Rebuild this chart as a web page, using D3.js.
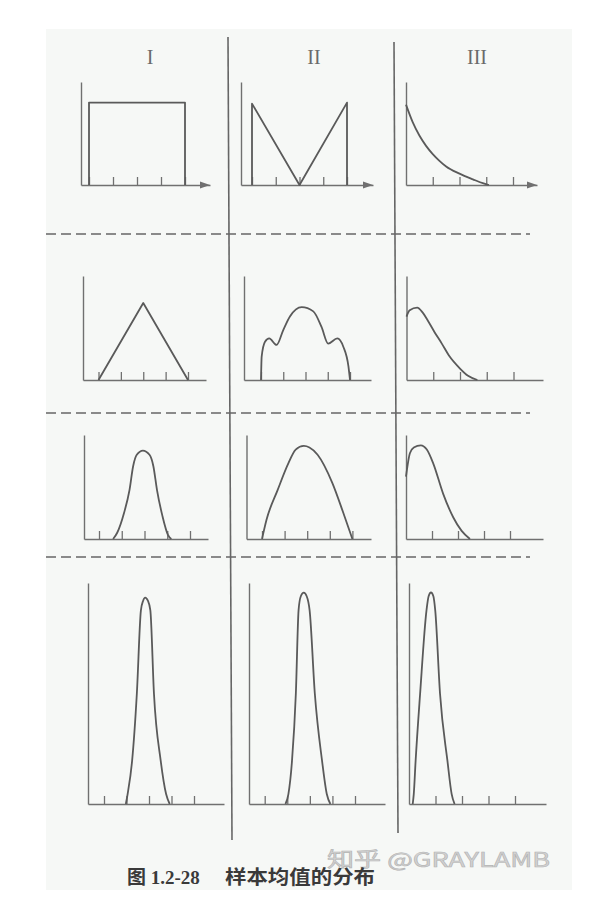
<!DOCTYPE html>
<html><head><meta charset="utf-8">
<script src="https://cdn.jsdelivr.net/npm/d3@7"></script>
<style>html,body{margin:0;padding:0;background:#fff;} svg{display:block}</style>
</head><body><svg id="c" width="610" height="918"></svg>
<script>
// ---------------- data ----------------
const columnTitles = ["I", "II", "III"];
const ticksSymmetric = [0, 1, 2, 3, 4];
const ticksSkewed = [1, 2, 3, 4];
const captionNumber = "图 1.2-28";
const captionText = "样本均值的分布";
const creditText = "知乎 @GRAYLAMB";

// row 1 : populations
const uniformPop = [[0,0],[0,0.8],[4,0.8],[4,0]];
const vShapePop  = [[0,0],[0,0.79],[2,0],[4,0.8],[4,0]];
const expPop     = [[0,0.78],[0.25,0.61],[0.5,0.48],[0.75,0.38],[1,0.3],[1.25,0.235],[1.5,0.18],[2,0.11],[2.5,0.055],[2.9,0.015],[3.1,0]];
// row 2
const uniformM2  = [[0,0],[2,0.74],[4,0]];
const vShapeM2   = [[0,0],[0.03,0.225],[0.18,0.368],[0.37,0.4],[0.7,0.337],[1.0,0.48],[1.3,0.61],[1.83,0.7],[2.35,0.66],[2.72,0.51],[3.02,0.35],[3.43,0.4],[3.7,0.32],[3.93,0.13],[4,0]];
const expM2      = [[0,0.61],[0.12,0.67],[0.4,0.695],[0.6,0.65],[0.8,0.57],[1.05,0.46],[1.32,0.35],[1.6,0.23],[2.0,0.11],[2.3,0.04],[2.65,0]];
// row 3
const uniformM3  = [[0.62,0],[0.8,0.06],[1.1,0.25],[1.34,0.47],[1.5,0.7],[1.66,0.81],[1.93,0.85],[2.22,0.81],[2.39,0.7],[2.55,0.47],[2.79,0.22],[3.03,0.04],[3.18,0]];
const vShapeM3   = [[0,0],[0.2,0.185],[0.69,0.47],[1.17,0.73],[1.49,0.86],[1.85,0.895],[2.1,0.88],[2.46,0.81],[3.11,0.54],[3.6,0.25],[4,0]];
const expM3      = [[0,0.6],[0.15,0.825],[0.3,0.88],[0.57,0.9],[0.8,0.86],[1.05,0.725],[1.43,0.434],[1.82,0.207],[2.14,0.078],[2.46,0]];
// row 4
const uniformM4  = [[0.97,0],[1.05,0.045],[1.25,0.196],[1.46,0.5],[1.64,0.876],[1.74,0.92],[1.83,0.934],[1.95,0.92],[2.06,0.876],[2.22,0.5],[2.52,0.196],[2.76,0.045],[2.92,0]];
const vShapeM4   = [[0.92,0],[1.05,0.045],[1.21,0.196],[1.38,0.5],[1.5,0.876],[1.6,0.94],[1.73,0.956],[1.86,0.94],[1.99,0.876],[2.22,0.5],[2.54,0.196],[2.75,0.045],[2.91,0]];
const expM4      = [[0.14,0],[0.18,0.045],[0.25,0.196],[0.42,0.5],[0.66,0.876],[0.74,0.94],[0.83,0.957],[0.92,0.94],[0.99,0.876],[1.17,0.5],[1.45,0.196],[1.61,0.045],[1.72,0]];

const curveGrid = [
  [uniformPop, vShapePop, expPop],
  [uniformM2,  vShapeM2,  expM2],
  [uniformM3,  vShapeM3,  expM3],
  [uniformM4,  vShapeM4,  expM4]
];
const columnTicks = [ticksSymmetric, ticksSymmetric, ticksSkewed];

// ---------------- layout (positions only) ----------------
const rowsLayout = [
  {top: 82,  bottom: 185, arrow: true},
  {top: 276, bottom: 380, arrow: false},
  {top: 435, bottom: 539, arrow: false},
  {top: 583, bottom: 804, arrow: false}
];
// per row / column: [y-axis x, pixel of value 0, pixel of value 4, axis end]
const panelLayout = [
  [[81, 89, 185, 210], [241, 252, 347, 373], [406, 406, 513, 537]],
  [[83, 98.5, 188, 206], [244, 261, 350, 371], [406.5, 406.5, 513.5, 543]],
  [[84, 99, 190, 208], [246.5, 262, 352.4, 371], [406, 406, 510, 543]],
  [[88, 104, 194, 224], [249, 264.7, 355, 385], [409, 409, 515, 546]]
];
const linearPanels = new Set(["0-0", "0-1", "1-0"]);
const titleX = [150, 314, 477];
const dividers = [[228, 37, 232, 840], [394, 42, 398, 833]];
const dashedY = [234, 413, 557];

const ink = "#5a5a5a", axisInk = "#707070";

// ---------------- drawing ----------------
const svg = d3.select("#c");
svg.append("rect").attr("x", 0).attr("y", 0).attr("width", 610).attr("height", 918).attr("fill", "#fff");
svg.append("rect").attr("x", 46).attr("y", 29).attr("width", 526).attr("height", 861).attr("fill", "#f6f8f6");

// column titles
svg.selectAll("text.title").data(columnTitles).join("text")
  .attr("class", "title")
  .attr("x", (d, i) => titleX[i]).attr("y", 64)
  .attr("text-anchor", "middle")
  .attr("font-family", "'Liberation Serif', 'DejaVu Serif', serif")
  .attr("font-size", 20).attr("fill", "#6a6a6a")
  .text(d => d);

// dashed separators
svg.selectAll("line.dash").data(dashedY).join("line")
  .attr("class", "dash")
  .attr("x1", 46).attr("x2", 530).attr("y1", d => d).attr("y2", d => d)
  .attr("stroke", "#8a8a8a").attr("stroke-width", 2).attr("stroke-dasharray", "10,5");

// vertical dividers
svg.selectAll("line.div").data(dividers).join("line")
  .attr("class", "div")
  .attr("x1", d => d[0]).attr("y1", d => d[1]).attr("x2", d => d[2]).attr("y2", d => d[3])
  .attr("stroke", "#666").attr("stroke-width", 1.6);

curveGrid.forEach((row, r) => {
  const R = rowsLayout[r];
  row.forEach((pts, c) => {
    const [ax, p0, p4, end] = panelLayout[r][c];
    const x = d3.scaleLinear().domain([0, 4]).range([p0, p4]);
    const y = d3.scaleLinear().domain([0, 1]).range([R.bottom, R.top]);
    const g = svg.append("g");

    // x axis (from y-axis to end)
    const xAxisScale = d3.scaleLinear().domain([x.invert(ax), x.invert(end)]).range([ax, end]);
    const xAxis = d3.axisBottom(xAxisScale).tickValues(columnTicks[c]).tickSizeInner(-8).tickSizeOuter(0).tickFormat("");
    const gx = g.append("g").attr("transform", `translate(0,${R.bottom})`).call(xAxis);
    gx.select(".domain").attr("stroke", axisInk).attr("stroke-width", 1.4);
    gx.selectAll(".tick line").attr("stroke", axisInk).attr("stroke-width", 1.3);

    // y axis
    const yAxis = d3.axisLeft(y).tickValues([]).tickSizeOuter(0);
    const gy = g.append("g").attr("transform", `translate(${ax},0)`).call(yAxis);
    gy.select(".domain").attr("stroke", axisInk).attr("stroke-width", 1.4);

    if (R.arrow) {
      g.append("path")
        .attr("d", `M${end},${R.bottom} l-10,-3.5 l0,7 z`)
        .attr("fill", axisInk);
    }

    const line = d3.line()
      .x(d => x(d[0])).y(d => y(d[1]))
      .curve(linearPanels.has(`${r}-${c}`) ? d3.curveLinear : d3.curveMonotoneX);
    g.append("path").datum(pts)
      .attr("d", line)
      .attr("fill", "none").attr("stroke", ink).attr("stroke-width", 1.8)
      .attr("stroke-linejoin", "round");
  });
});

// credit watermark
svg.append("text")
  .attr("x", 327).attr("y", 867)
  .attr("font-family", "'Noto Sans CJK SC', 'Noto Sans', sans-serif")
  .attr("font-size", 20)
  .attr("textLength", 223).attr("lengthAdjust", "spacingAndGlyphs")
  .attr("fill", "#d2d2d2").attr("stroke", "#b4b4b4").attr("stroke-width", 0.6)
  .text(creditText);

// caption
const cap = svg.append("text").attr("y", 884).attr("fill", "#3a3a3a").attr("font-weight", "bold").attr("font-size", 19);
cap.append("tspan").attr("x", 127)
  .attr("font-family", "'Liberation Serif', 'Noto Sans CJK SC', serif")
  .text(captionNumber);
cap.append("tspan").attr("x", 225)
  .attr("font-family", "'Noto Sans CJK SC', sans-serif")
  .attr("textLength", 150).attr("lengthAdjust", "spacingAndGlyphs")
  .text(captionText);
</script>
</body></html>
